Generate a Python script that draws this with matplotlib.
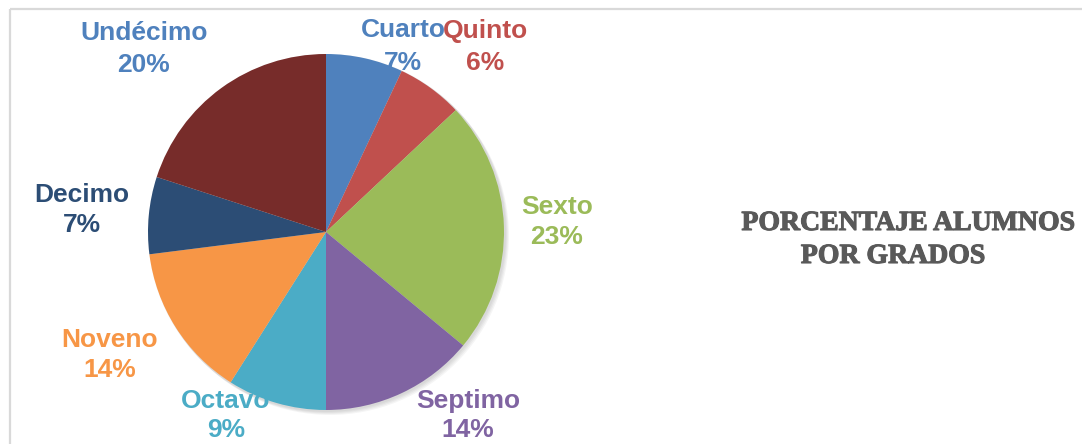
import matplotlib
matplotlib.use("Agg")
import matplotlib.pyplot as plt
import matplotlib.patheffects as pe
from matplotlib.patches import Circle

# ---- data ----
categories = ["Cuarto", "Quinto", "Sexto", "Septimo", "Octavo", "Noveno", "Decimo", "Undécimo"]
percentages = [7, 6, 23, 14, 9, 14, 7, 20]
colors = ["#4F81BD", "#C0504D", "#9BBB59", "#8064A2", "#4BACC6", "#F79646", "#2C4D75", "#772C2A"]
label_colors = ["#4F81BD", "#C0504D", "#9BBB59", "#8064A2", "#4BACC6", "#F79646", "#2C4D75", "#4F81BD"]
title_lines = ["PORCENTAJE ALUMNOS", "POR GRADOS"]

# ---- layout (pixel coordinates, y measured from top) ----
W, H = 1082, 444
center_px = (326, 232)
radius_px = 178
# label anchor: (x center, baseline of name line, baseline of percent line)
label_pos = [(403, 37, 70), (485, 38, 70), (557, 214, 244), (468, 408, 437),
             (226, 408, 437), (110, 347, 377), (82, 202, 232), (144, 40, 72)]
title_pos = [(908, 230), (893, 263)]

fig = plt.figure(figsize=(W / 100, H / 100), dpi=100)
ax = fig.add_axes([0, 0, 1, 1])


def Y(y):
    return H - y


cx, cy = center_px[0], Y(center_px[1])

# soft shadow
for i in range(4):
    ax.add_patch(Circle((cx + 1 + i, cy - 1 - i), radius_px + 1, color="#000000",
                        alpha=0.04, lw=0, zorder=1))

ax.pie(percentages, colors=colors, startangle=90, counterclock=False,
       center=(cx, cy), radius=radius_px, frame=True,
       wedgeprops=dict(linewidth=0, zorder=2))
ax.set_xlim(0, W)
ax.set_ylim(0, H)
ax.set_aspect("equal")
ax.set_axis_off()

# border
ax.plot([9.5, 9.5], [Y(9.5), -5], color="#d9d9d9", lw=1.6, solid_capstyle="butt")
ax.plot([9.5, W + 5], [Y(9.5), Y(9.5)], color="#d9d9d9", lw=1.6, solid_capstyle="butt")

for name, pct, col, (lx, b1, b2) in zip(categories, percentages, label_colors, label_pos):
    ax.text(lx, Y(b1), name, ha="center", va="baseline", color=col,
            fontsize=19, fontweight="bold", family="Liberation Sans", zorder=5)
    ax.text(lx, Y(b2), f"{pct}%", ha="center", va="baseline", color=col,
            fontsize=19, fontweight="bold", family="Liberation Sans", zorder=5)

for line, (tx, ty) in zip(title_lines, title_pos):
    ax.text(tx, Y(ty), line, ha="center", va="baseline", color="#595959",
            fontsize=20, fontweight="bold", family="Liberation Serif",
            path_effects=[pe.withStroke(linewidth=0.8, foreground="#595959")])

fig.savefig("out.png", dpi=100)
